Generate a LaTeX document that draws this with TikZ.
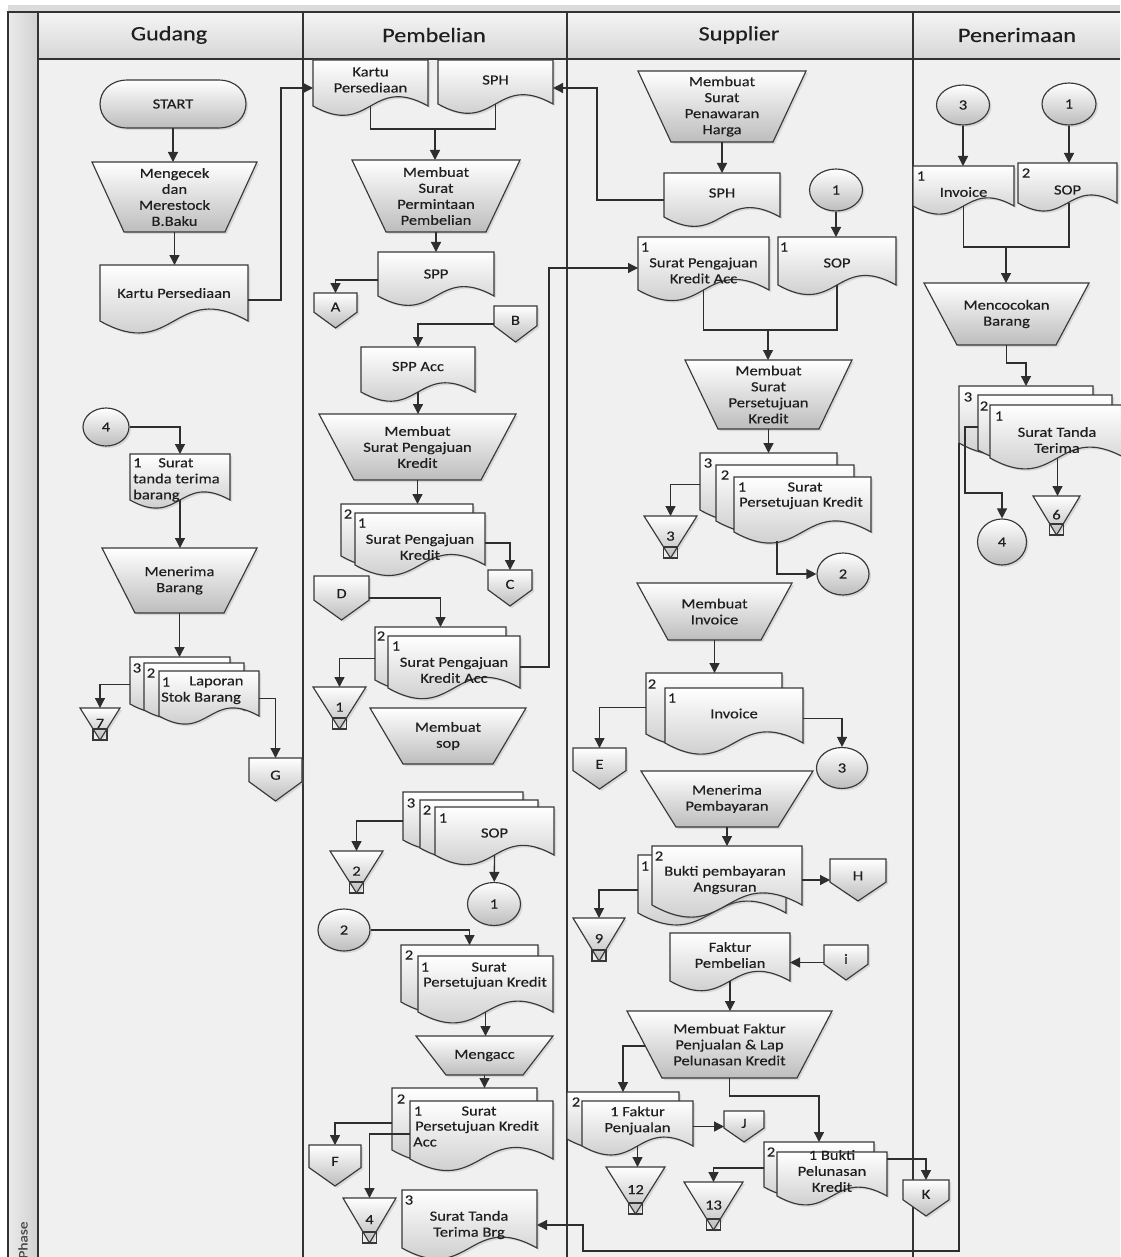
\documentclass[tikz,border=0pt]{standalone}
\usepackage{fontspec}
\setmainfont{Carlito}[FakeStretch=1.18,FakeBold=0.35]
\usetikzlibrary{arrows.meta,shapes.geometric,shadows,calc}

\tikzset{
  ln/.style={draw=black!82, line width=1.3pt},
  arr/.style={ln, -{Triangle[length=10pt,width=10pt]}},
  shp/.style={draw=black!78, line width=1.15pt, top color=white, bottom color=black!26,
    drop shadow={shadow xshift=2pt, shadow yshift=-2pt, opacity=0.22}},
  box/.style={inner sep=0pt, outer sep=0pt},
  lbl/.style={inner sep=0pt, align=center, font=\fontsize{14}{16}\selectfont, text=black!88},
  num/.style={lbl},
  circ/.style={shp, ellipse, inner sep=0pt, font=\fontsize{14}{16}\selectfont, text=black!88},
  hdr/.style={inner sep=0pt, font=\fontsize{20.5}{24}\selectfont, text=black!88},
}

% document shape: opts, name, x0, y0, x1, yb, text
\newcommand\docu[7][]{%
  \path[shp] (#3,#4) -- (#5,#4) -- (#5,#6) .. controls ({(#3+#5)/2},{#6-0.28*(#5-#3)}) and ({(#3+#5)/2},{#6+0.28*(#5-#3)}) .. (#3,#6) -- cycle;
  \node[box, minimum width={#5-#3}, minimum height={#6-#4}] (#2) at ({(#3+#5)/2},{(#4+#6)/2}) {};
  \node[lbl,#1] (#2-t) at (#2.center) {#7};
}
% manual operation: opts, name, xl, xr, yt, inset, yb, text
\newcommand\trap[8][]{%
  \path[shp] (#3,#5) -- (#4,#5) -- ({#4-#6},#7) -- ({#3+#6},#7) -- cycle;
  \node[box, minimum width={#4-#3}, minimum height={#7-#5}] (#2) at ({(#3+#4)/2},{(#5+#7)/2}) {};
  \node[lbl,#1] (#2-t) at (#2.center) {#8};
}
% off-page: name, x0, x1, yt, yb, text
\newcommand\offp[6]{%
  \path[shp] (#2,#4) -- (#3,#4) -- (#3,{#4+0.55*(#5-#4)}) -- ({(#2+#3)/2},#5) -- (#2,{#4+0.55*(#5-#4)}) -- cycle;
  \node[box, minimum width={#3-#2}, minimum height={#5-#4}] (#1) at ({(#2+#3)/2},{(#4+#5)/2}) {};
  \node[lbl] (#1-t) at ({(#2+#3)/2},{#4+0.4*(#5-#4)}) {#6};
}
% archive: name, xl, xr, yt, yb, number
\newcommand\arch[6]{%
  \path[shp] (#2,#4) -- (#3,#4) -- ({(#2+#3)/2},#5) -- cycle;
  \draw[black!78, line width=1.15pt] ({(#2+#3)/2-7},{#5-11}) rectangle ({(#2+#3)/2+7},#5);
  \node[box, minimum width={#3-#2}, minimum height={#5-#4}] (#1) at ({(#2+#3)/2},{(#4+#5)/2}) {};
  \node[lbl] (#1-t) at ({(#2+#3)/2},{#4+0.48*(#5-#4)}) {#6};
}

\begin{document}
\begin{tikzpicture}[x=1pt,y=-1pt]
\useasboundingbox (0,0) rectangle (1120,1257);
% background
\fill[white] (0,0) rectangle (1120,1257);
\fill[black!14] (8,5) rectangle (1120,12);
\fill[black!6] (38,59) rectangle (1120,1257);
\shade[left color=black!8, right color=black!18] (8,12) rectangle (38,1257);
\shade[top color=black!4, bottom color=black!16] (38,12) rectangle (1120,59);
\draw[black!80, line width=1.2pt] (1120,12) -- (8,12) -- (8,1257);
\draw[black!80, line width=1.2pt] (38,12) -- (38,1257);
\draw[black!80, line width=1.2pt] (38,59) -- (1120,59);
\foreach \xx in {303,567,913} \draw[black!80, line width=1.2pt] (\xx,12) -- (\xx,1257);
\node[hdr] (h-g) at (169,35) {Gudang};
\node[hdr] (h-p) at (434,35) {Pembelian};
\node[hdr] (h-s) at (739,35) {Supplier};
\node[hdr] (h-r) at (1017,35) {Penerimaan};
\node[rotate=90, inner sep=0pt, font=\fontsize{13}{13}\selectfont, text=black!70] (phase) at (23,1240) {Phase};

% ================= Gudang
\path[shp] (128,80) -- (218,80) .. controls (255.3,80) and (255.3,128) .. (218,128) -- (128,128) .. controls (90.7,128) and (90.7,80) .. (128,80) -- cycle;
\node[box, minimum width=146pt, minimum height=48pt, font=\fontsize{14}{16}\selectfont, text=black!88] (start) at (173,104) {START};
\trap{g-cek}{92}{257}{162}{32}{232}{Mengecek\\dan\\Merestock\\B.Baku}
\docu{g-kp}{100}{265}{248}{321}{Kartu Persediaan}
\node[circ, minimum width=46pt, minimum height=38pt] (g-c4) at (106,427) {4};
\docu{g-stt}{130}{454}{230}{500}{}
\node[lbl, align=left, anchor=north west] (g-stt-l) at (133,458) {1\hspace{1.2em}Surat\\tanda terima\\barang};
\trap{g-mb}{102}{257}{548}{33}{613}{Menerima\\Barang}
\docu{g-l3}{130}{657}{230}{704}{}
\docu{g-l2}{144}{663}{244}{710}{}
\docu{g-l1}{159}{671}{259}{716}{}
\node[num] (g-l3-n) at (137,668) {3};
\node[num] (g-l2-n) at (151,673) {2};
\node[num] (g-l1-n) at (166,682) {1};
\node[lbl, anchor=west] (g-l1-a) at (189,682) {Laporan};
\node[lbl, anchor=west] (g-l1-b) at (161,698) {Stok Barang};
\arch{g-a7}{80}{120}{708}{740}{7}
\offp{g-G}{249}{302}{758}{801}{G}

% ================= Pembelian
\docu[yshift=3pt]{p-kp}{313}{60}{428}{106}{Kartu\\Persediaan}
\docu[yshift=2pt]{p-sph}{438}{60}{553}{104}{SPH}
\trap{p-mspp}{352}{520}{160}{34}{232}{Membuat\\Surat\\Permintaan\\Pembelian}
\docu{p-spp}{378}{252}{494}{296}{SPP}
\offp{p-A}{314}{357}{293}{328}{A}
\offp{p-B}{494}{537}{306}{342}{B}
\docu[yshift=3pt]{p-sppacc}{361}{347}{475}{392}{SPP Acc}
\trap{p-mspk}{319}{516}{414}{35}{480}{Membuat\\Surat Pengajuan\\Kredit}
\docu{p-spk2}{341}{504}{473}{556}{}
\docu[yshift=-8pt]{p-spk1}{355}{513}{485}{565}{Surat Pengajuan\\Kredit}
\node[num] (p-spk2-n) at (348,514) {2};
\node[num] (p-spk1-n) at (362,523) {1};
\offp{p-C}{488}{532}{570}{606}{C}
\offp{p-D}{314}{369}{576}{620}{D}
\docu{p-ska2}{375}{627}{506}{680}{}
\docu[yshift=-8pt]{p-ska1}{388}{636}{520}{688}{Surat Pengajuan\\Kredit Acc}
\node[num] (p-ska2-n) at (381,636) {2};
\node[num] (p-ska1-n) at (396,646) {1};
\arch{p-a1}{313}{366}{687}{729}{1}
\trap{p-msop}{370}{526}{708}{33}{764}{Membuat\\sop}
\docu{p-sop3}{403}{792}{523}{840}{}
\docu{p-sop2}{420}{800}{538}{848}{}
\docu[yshift=-2pt]{p-sop1}{435}{807}{554}{855}{SOP}
\node[num] (p-sop3-n) at (411,803) {3};
\node[num] (p-sop2-n) at (427,810) {2};
\node[num] (p-sop1-n) at (443,818) {1};
\arch{p-a2}{330}{383}{851}{893}{2}
\node[circ, minimum width=53pt, minimum height=43pt] (p-c1) at (494,904) {1};
\node[circ, minimum width=52pt, minimum height=42pt] (p-c2) at (344,930) {2};
\docu{p-psk2}{401}{945}{538}{1002}{}
\docu{p-psk1}{418}{956}{553}{1012}{}
\node[num] (p-psk2-n) at (409,955) {2};
\node[num] (p-psk1-n) at (425,967) {1};
\node[lbl] (p-psk1-a) at (489,967) {Surat};
\node[lbl] (p-psk1-b) at (485,983) {Persetujuan Kredit};
\trap{p-macc}{416}{553}{1036}{30}{1075}{Mengacc}
\docu{p-pka2}{392}{1088}{537}{1150}{}
\docu{p-pka1}{410}{1101}{553}{1159}{}
\node[num] (p-pka2-n) at (401,1099) {2};
\node[num] (p-pka1-n) at (418,1111) {1};
\node[lbl] (p-pka1-a) at (479,1111) {Surat};
\node[lbl] (p-pka1-b) at (477,1127) {Persetujuan Kredit};
\node[lbl, anchor=west] (p-pka1-c) at (413,1142) {Acc};
\offp{p-F}{309}{361}{1145}{1186}{F}
\arch{p-a4}{343}{396}{1198}{1243}{4}
\docu{p-sttb}{402}{1190}{537}{1248}{}
\node[num] (p-sttb-n) at (409,1200) {3};
\node[lbl] (p-sttb-a) at (469,1225) {Surat Tanda\\Terima Brg};

% ================= Supplier
\trap{s-msph}{638}{806}{71}{33}{142}{Membuat\\Surat\\Penawaran\\Harga}
\docu[yshift=2pt]{s-sph}{664}{173}{780}{217}{SPH}
\node[circ, minimum width=53pt, minimum height=42pt] (s-c1) at (836,190) {1};
\docu[yshift=-2pt]{s-sop}{778}{237}{896}{285}{SOP}
\node[num] (s-sop-n) at (784,247) {1};
\docu[yshift=-7pt]{s-pka}{638}{237}{769}{290}{Surat Pengajuan\\Kredit Acc}
\node[num] (s-pka-n) at (645,247) {1};
\trap{s-mpk}{685}{852}{360}{33}{429}{Membuat\\Surat\\Persetujuan\\Kredit}
\docu{s-psk3}{700}{453}{837}{510}{}
\docu{s-psk2}{716}{465}{854}{521}{}
\docu{s-psk1}{734}{477}{871}{532}{}
\node[num] (s-psk3-n) at (708,463) {3};
\node[num] (s-psk2-n) at (725,475) {2};
\node[num] (s-psk1-n) at (742,487) {1};
\node[lbl] (s-psk1-a) at (805,487) {Surat};
\node[lbl] (s-psk1-b) at (801,503) {Persetujuan Kredit};
\arch{s-a3}{644}{697}{516}{558}{3}
\node[circ, minimum width=52pt, minimum height=42pt] (s-c2) at (843,574) {2};
\trap{s-minv}{637}{792}{583}{31}{640}{Membuat\\Invoice}
\docu{s-inv2}{646}{673}{782}{734}{}
\docu[yshift=2pt]{s-inv1}{665}{688}{803}{743}{Invoice}
\node[num] (s-inv2-n) at (652,684) {2};
\node[num] (s-inv1-n) at (672,698) {1};
\offp{s-E}{573}{626}{748}{789}{E}
\node[circ, minimum width=51pt, minimum height=41pt] (s-c3) at (842,768) {3};
\trap{s-mpb}{641}{813}{771}{35}{827}{Menerima\\Pembayaran}
\docu{s-bk1}{638}{855}{786}{913}{}
\docu{s-bk2}{652}{846}{802}{905}{}
\node[num] (s-bk1-n) at (645,866) {1};
\node[num] (s-bk2-n) at (659,856) {2};
\node[lbl] (s-bk2-a) at (725,880) {Bukti pembayaran\\Angsuran};
\offp{s-H}{830}{886}{859}{901}{H}
\arch{s-a9}{573}{625}{918}{961}{9}
\docu[yshift=2pt]{s-fp}{670}{933}{790}{981}{Faktur\\Pembelian}
\offp{s-I}{824}{868}{945}{980}{i}
\trap{s-mfp}{627}{832}{1011}{35}{1078}{Membuat Faktur\\Penjualan \& Lap\\Pelunasan Kredit}
\docu{s-fj2}{567}{1092}{679}{1139}{}
\docu[yshift=3pt]{s-fj1}{582}{1101}{693}{1146}{1 Faktur\\Penjualan}
\node[num] (s-fj2-n) at (576,1102) {2};
\offp{s-J}{724}{764}{1111}{1142}{J}
\arch{s-a12}{606}{665}{1167}{1214}{12}
\docu{s-bp2}{764}{1142}{874}{1187}{}
\docu[yshift=3pt]{s-bp1}{777}{1152}{887}{1196}{1 Bukti\\Pelunasan\\Kredit}
\node[num] (s-bp2-n) at (771,1152) {2};
\arch{s-a13}{684}{743}{1182}{1230}{13}
\offp{s-K}{903}{949}{1180}{1216}{K}

% ================= Penerimaan
\node[circ, minimum width=53pt, minimum height=40pt] (r-c3) at (963,105) {3};
\node[circ, minimum width=54pt, minimum height=42pt] (r-c1) at (1069,104) {1};
\docu[yshift=-6pt]{r-inv}{913}{166}{1014}{206}{Invoice}
\node[num] (r-inv-n) at (921,176) {1};
\docu[yshift=-7pt]{r-sop}{1018}{163}{1117}{203}{SOP}
\node[num] (r-sop-n) at (1026,173) {2};
\trap{r-mcb}{924}{1089}{283}{33}{345}{Mencocokan\\Barang}
\docu{r-st3}{959}{386}{1093}{443}{}
\docu{r-st2}{978}{395}{1112}{450}{}
\docu{r-st1}{990}{405}{1125}{458}{}
\node[num] (r-st3-n) at (968,397) {3};
\node[num] (r-st2-n) at (984,406) {2};
\node[num] (r-st1-n) at (999,416) {1};
\node[lbl] (r-st1-a) at (1057,440) {Surat Tanda\\Terima};
\node[circ, minimum width=49pt, minimum height=46pt] (r-c4) at (1002,542) {4};
\arch{r-a6}{1033}{1080}{496}{535}{6}

% ================= connectors
% Gudang
\draw[arr] (start.south) -- (start.south |- g-cek.north);
\draw[arr] (g-cek.south) -- (g-cek.south |- g-kp.north);
\draw[arr] ([yshift=-7pt]g-kp.east) -- (281,300) |- ([yshift=-5pt]p-kp.west);
\draw[arr] (g-c4) -| (g-stt.north);
\draw[arr] (g-stt.south) -- (g-stt.south |- g-mb.north);
\draw[arr] (g-mb.south) -- (g-mb.south |- g-l3.north);
\draw[arr] ([yshift=-4pt]g-l3.west) -| (g-a7.north);
\draw[arr] ([yshift=-5pt]g-l1.east) -| (g-G.north);
% Pembelian
\coordinate (pj) at (435,129);
\draw[ln] (p-kp.south) |- (pj) -| (p-sph.south);
\draw[arr] (pj) -- (pj |- p-mspp.north);
\draw[arr] (p-mspp.south) -- (p-mspp.south |- p-spp.north);
\draw[arr] ([yshift=-6pt]p-spp.west) -| (p-A.north);
\draw[arr] (p-B.west) -| (p-sppacc.north);
\draw[arr] (p-sppacc.south) -- (p-sppacc.south |- p-mspk.north);
\draw[arr] (p-mspk.south) -- (p-mspk.south |- p-spk2.north);
\draw[arr] ([yshift=-4pt]p-spk1.east) -| (p-C.north);
\draw[arr] (p-D.east) -| (p-ska2.north);
\draw[arr] ([yshift=-5pt]p-ska1.east) -- (549,667) |- ([yshift=-4.5pt]s-pka.west);
\draw[arr] ([yshift=-5pt]p-ska2.west) -| (p-a1.north);
\draw[arr] ([yshift=-5pt]p-sop3.west) -| (p-a2.north);
\draw[arr] (p-sop1.south) -- (p-c1);
\draw[arr] (p-c2) -| (p-psk2.north);
\draw[arr] (p-psk1.south) -- (p-psk1.south |- p-macc.north);
\draw[arr] (p-macc.south) -- (p-macc.south |- p-pka2.north);
\draw[arr] ([yshift=-4pt]p-pka2.west) -| (p-F.north);
\draw[arr] ([yshift=-4pt]p-pka1.west) -| (p-a4.north);
% Supplier
\draw[arr] (s-msph.south) -- (s-msph.south |- s-sph.north);
\draw[arr] ([yshift=-5pt]s-sph.west) -- (597,200) |- ([yshift=-6pt]p-sph.east);
\draw[arr] (s-c1) -- (s-c1 |- s-sop.north);
\coordinate (sj) at (768,330);
\draw[ln] (s-pka.south) |- (sj) -| (s-sop.south);
\draw[arr] (sj) -- (sj |- s-mpk.north);
\draw[arr] (s-mpk.south) -- (s-mpk.south |- s-psk3.north);
\draw[arr] ([yshift=-3pt]s-psk3.west) -| (s-a3.north);
\draw[arr] ([xshift=-25.5pt,yshift=-9pt]s-psk1.south) |- (s-c2);
\draw[arr] (s-minv.south) -- (s-minv.south |- s-inv2.north);
\draw[arr] ([yshift=-4pt]s-inv2.west) -| (s-E.north);
\draw[arr] ([yshift=-3pt]s-inv1.east) -| (s-c3);
\draw[arr] (s-mpb.south) -- (s-mpb.south |- s-bk2.north);
\draw[arr] (s-bk2.east |- s-H.west) -- (s-H.west);
\draw[arr] ([yshift=-6pt]s-bk1.west) -| (s-a9.north);
\draw[arr] (s-I.west) -- (s-I.west -| s-fp.east);
\draw[arr] (s-fp.south) -- (s-fp.south |- s-mfp.north);
\coordinate (mfpL) at (645,1046);
\draw[arr] (mfpL) -| (s-fj2.north);
\draw[arr] (s-fj1.east |- s-J.west) -- (s-J.west);
\draw[arr] (s-fj1.south) -- (s-fj1.south |- s-a12.north);
\draw[arr] (s-mfp.south) -- ++(0,18) -| (s-bp2.north);
\draw[arr] ([yshift=-3.5pt]s-bp2.west) -| (s-a13.north);
\draw[arr] ([yshift=15pt]s-bp1.east) -| (s-K.north);
% Penerimaan
\draw[arr] (r-c3) -- (r-c3 |- r-inv.north);
\draw[arr] (r-c1) -- (r-c1 |- r-sop.north);
\coordinate (rj) at (1006,247);
\draw[ln] (r-inv.south) |- (rj) -| ([xshift=1.5pt]r-sop.south);
\draw[arr] (rj) -- (rj |- r-mcb.north);
\draw[arr] (r-mcb.south) -- ++(0,18) -| (r-st3.north);
\draw[arr] ([yshift=-4.5pt]r-st2.west) -- (965,427) |- (1002,493) -- (r-c4);
\draw[arr] (r-st1.south) -- (r-st1.south |- r-a6.north);
\draw[arr] (r-st3.south west) -- (959,1251) -| (583,1225) -- ([yshift=-6pt]p-sttb.east);
\end{tikzpicture}
\end{document}
